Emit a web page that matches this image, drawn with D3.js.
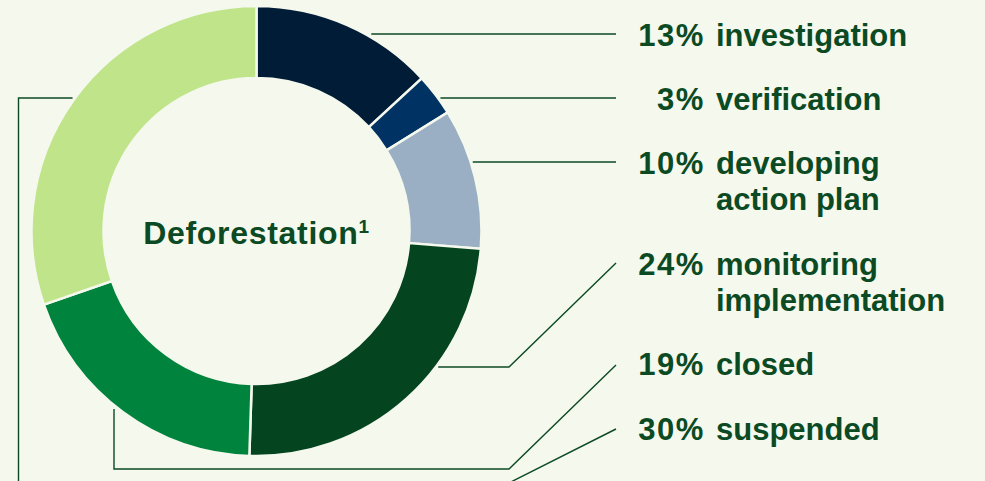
<!DOCTYPE html>
<html>
<head>
<meta charset="utf-8">
<script src="https://cdn.jsdelivr.net/npm/d3@7"></script>
<style>
  html, body { margin: 0; padding: 0; background: #f4f8ed; }
  svg { display: block; }
  text { font-family: "Liberation Sans", Arial, Helvetica, sans-serif; font-weight: bold; fill: #0b4a23; }
</style>
</head>
<body>
<svg id="chart" width="985" height="481"></svg>
<script>
// ---- data ----
const categories = ["investigation", "verification", "developing action plan", "monitoring implementation", "closed", "suspended"];
const values = [13, 3, 10, 24, 19, 30];
const percentLabels = ["13%", "3%", "10%", "24%", "19%", "30%"];
const labelLines = [["investigation"], ["verification"], ["developing", "action plan"], ["monitoring", "implementation"], ["closed"], ["suspended"]];
const centerTitle = "Deforestation";
const centerNote = "1";

// ---- styling / layout ----
const colors = ["#011c36", "#003263", "#9aafc4", "#04441f", "#00833c", "#c0e48a"];
const W = 985, H = 481;
const cx = 256.5, cy = 231, rOuter = 225, rInner = 153;
const lineColor = "#0b4a23";
const labelBaselines = [46, 110, 174, 275, 375, 440];
const lineHeight = 36;
const pctRight = 705, textLeft = 716;
const leaderEndX = 616;

const svg = d3.select("#chart");
svg.append("rect").attr("width", W).attr("height", H).attr("fill", "#f4f8ed");

const pie = d3.pie().sort(null).value(d => d);
const arcs = pie(values);
const arc = d3.arc().innerRadius(rInner).outerRadius(rOuter);

const g = svg.append("g").attr("transform", `translate(${cx},${cy})`);
g.selectAll("path.slice")
  .data(arcs)
  .join("path")
  .attr("class", "slice")
  .attr("d", arc)
  .attr("fill", (d, i) => colors[i])
  .attr("stroke", "#f4f8ed")
  .attr("stroke-width", 2.5);

// ---- leader lines ----
function rimX(y, side) {
  const dy = y - cy;
  const dx = Math.sqrt(Math.max(0, (rOuter + 2) ** 2 - dy * dy));
  return cx + side * dx;
}
const leaders = [
  [[rimX(34, 1) + 2, 34], [leaderEndX, 34]],
  [[rimX(98, 1), 98], [leaderEndX, 98]],
  [[rimX(162, 1), 162], [leaderEndX, 162]],
  [[rimX(367, 1), 367], [509, 367], [leaderEndX, 263]],
  [[114, 409], [114, 469], [509, 469], [leaderEndX, 365]],
  [[rimX(98, -1), 98], [18.5, 98], [18.5, 492], [491, 492], [leaderEndX, 429]]
];
const lineGen = d3.line();
svg.append("g").selectAll("path")
  .data(leaders)
  .join("path")
  .attr("d", d => lineGen(d))
  .attr("fill", "none")
  .attr("stroke", lineColor)
  .attr("stroke-width", 1.4);

// ---- labels ----
const lab = svg.append("g");
categories.forEach((c, i) => {
  lab.append("text")
    .attr("x", pctRight)
    .attr("y", labelBaselines[i])
    .attr("text-anchor", "end")
    .attr("font-size", 31)
    .attr("letter-spacing", 1.6)
    .text(percentLabels[i]);
  const t = lab.append("text")
    .attr("x", textLeft)
    .attr("y", labelBaselines[i])
    .attr("font-size", 31);
  labelLines[i].forEach((ln, j) => {
    t.append("tspan")
      .attr("x", textLeft)
      .attr("dy", j === 0 ? 0 : lineHeight)
      .text(ln);
  });
});

// ---- center title ----
const ct = svg.append("text")
  .attr("x", cx)
  .attr("y", 244)
  .attr("text-anchor", "middle")
  .attr("font-size", 32)
  .attr("letter-spacing", 0.7);
ct.append("tspan").text(centerTitle);
ct.append("tspan").attr("font-size", 19).attr("dy", -11).text(centerNote);
</script>
</body>
</html>
